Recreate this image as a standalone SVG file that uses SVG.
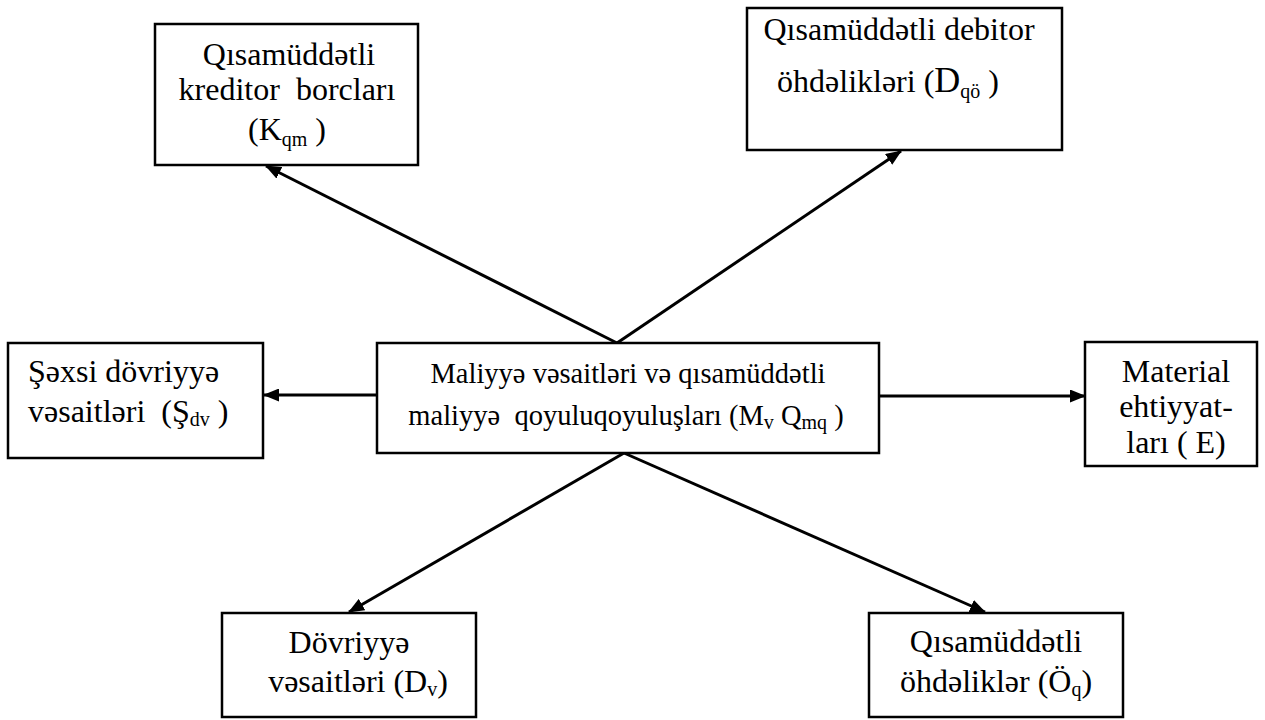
<svg xmlns="http://www.w3.org/2000/svg" width="1265" height="720" viewBox="0 0 1265 720">
<defs>
<marker id="ah" markerWidth="16" markerHeight="13" refX="15" refY="6.5" orient="auto" markerUnits="userSpaceOnUse">
<path d="M0,0 L16,6.5 L0,13 Z" fill="#000"/>
</marker>
<style>
.box{fill:#fff;stroke:#000;stroke-width:2.5}
.t{font-family:"Liberation Serif","Times New Roman",serif;font-size:32px;fill:#000;white-space:pre}
.c{font-family:"Liberation Serif","Times New Roman",serif;font-size:28.5px;fill:#000;white-space:pre}
.s{font-size:20px}
.cn{stroke:#000;stroke-width:3;fill:none;marker-end:url(#ah)}
</style>
</defs>
<rect width="1265" height="720" fill="#fff"/>
<g id="connectors">
<line class="cn" x1="617" y1="343" x2="266" y2="166"/>
<line class="cn" x1="617" y1="343" x2="901" y2="151"/>
<line class="cn" x1="377" y1="395" x2="264" y2="395"/>
<line class="cn" x1="879" y1="396" x2="1085" y2="396"/>
<line class="cn" x1="624" y1="453" x2="349" y2="612"/>
<line class="cn" x1="624" y1="453" x2="985" y2="612"/>
</g>
<g id="kqm">
<rect class="box" x="155" y="24" width="263" height="141"/>
<text class="t" text-anchor="middle" xml:space="preserve"><tspan x="289" y="65">Qısamüddətli</tspan><tspan x="287" y="100">kreditor  borcları</tspan><tspan x="287" y="140">(K<tspan class="s" dy="6">qm</tspan><tspan dy="-6"> )</tspan></tspan></text>
</g>
<g id="dqo">
<rect class="box" x="747" y="8" width="315" height="142"/>
<text class="t" text-anchor="middle" xml:space="preserve"><tspan x="899" y="40">Qısamüddətli debitor</tspan><tspan x="888" y="92">öhdəlikləri (<tspan font-size="36">D</tspan><tspan class="s" dy="6">qö</tspan><tspan dy="-6"> )</tspan></tspan></text>
</g>
<g id="sdv">
<rect class="box" x="8" y="343" width="255" height="115"/>
<text class="t" xml:space="preserve"><tspan x="28" y="382">Şəxsi dövriyyə</tspan><tspan x="28" y="422">vəsaitləri  (Ş<tspan class="s" dy="4">dv</tspan><tspan dy="-4"> )</tspan></tspan></text>
</g>
<g id="mvqmq">
<rect class="box" x="377" y="343" width="502" height="110"/>
<text class="c" text-anchor="middle" xml:space="preserve"><tspan x="628" y="383">Maliyyə vəsaitləri və qısamüddətli</tspan><tspan x="626" y="425">maliyyə  qoyuluqoyuluşları (M<tspan class="s" dy="4">v</tspan><tspan dy="-4"> Q</tspan><tspan class="s" dy="4">mq</tspan><tspan dy="-4"> )</tspan></tspan></text>
</g>
<g id="e">
<rect class="box" x="1085" y="342" width="172" height="124"/>
<text class="t" text-anchor="middle" xml:space="preserve"><tspan x="1176" y="382">Material</tspan><tspan x="1176" y="417">ehtiyyat-</tspan><tspan x="1176" y="453">ları ( E)</tspan></text>
</g>
<g id="dv">
<rect class="box" x="222" y="613" width="254" height="104"/>
<text class="t" text-anchor="middle" xml:space="preserve"><tspan x="349" y="653">Dövriyyə</tspan><tspan x="358" y="692">vəsaitləri (D<tspan class="s" dy="4">v</tspan><tspan dy="-4">)</tspan></tspan></text>
</g>
<g id="oq">
<rect class="box" x="869" y="613" width="254" height="104"/>
<text class="t" text-anchor="middle" xml:space="preserve"><tspan x="996" y="652">Qısamüddətli</tspan><tspan x="996" y="692">öhdəliklər (Ö<tspan class="s" dy="4">q</tspan><tspan dy="-4">)</tspan></tspan></text>
</g>
</svg>
